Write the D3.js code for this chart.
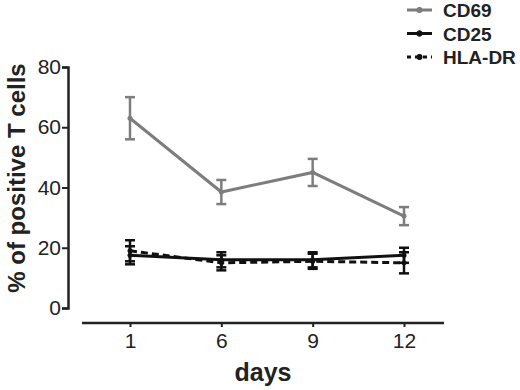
<!DOCTYPE html>
<html>
<head>
<meta charset="utf-8">
<script src="https://cdn.jsdelivr.net/npm/d3@7"></script>
<style>
    body { margin: 0; background: #fff; }
    text { font-family: "Liberation Sans", Arial, sans-serif; fill: #222; }
</style>
</head>
<body>
<svg id="chart" width="520" height="390"></svg>
<script>
var days = ["1", "6", "9", "12"];
var yTicks = [0, 20, 40, 60, 80];

var cd69Mean = [63, 38.5, 45, 30.5];
var cd69Err = [7, 4, 4.5, 3];
var cd25Mean = [17.5, 16, 16, 17.5];
var cd25Err = [3, 2.5, 2.5, 2.5];
var hlaMean = [19, 15, 15.5, 15];
var hlaErr = [3.5, 2.5, 2.5, 3.5];

var series = [
    { name: "CD69", mean: cd69Mean, err: cd69Err, color: "#7d7d7d", dash: null },
    { name: "CD25", mean: cd25Mean, err: cd25Err, color: "#111", dash: null },
    { name: "HLA-DR", mean: hlaMean, err: hlaErr, color: "#111", dash: "7,4" }
];

var svg = d3.select("#chart");

var x = d3.scalePoint().domain(days).range([130, 404]);
var y = d3.scaleLinear().domain([0, 80]).range([308, 67]);

// y axis
var yAxis = svg.append("g")
    .attr("transform", "translate(68,0)")
    .call(d3.axisLeft(y).tickValues(yTicks).tickSize(6).tickPadding(1));
yAxis.select(".domain").attr("stroke", "#222").attr("stroke-width", 2.5);
yAxis.selectAll(".tick line").attr("stroke", "#222").attr("stroke-width", 2);
yAxis.selectAll("text").style("font-size", "21px").attr("fill", "#222");

// x axis, line extends past the outer ticks
var xAxis = svg.append("g")
    .attr("transform", "translate(0,323)")
    .call(d3.axisBottom(x).tickSize(4).tickSizeOuter(0).tickPadding(6));
xAxis.select(".domain").remove();
xAxis.append("line")
    .attr("x1", 82).attr("x2", 444)
    .attr("stroke", "#222").attr("stroke-width", 2.5);
xAxis.selectAll(".tick line").attr("stroke", "#222").attr("stroke-width", 2);
xAxis.selectAll("text").style("font-size", "21px").attr("fill", "#222");

svg.append("text")
    .attr("x", 263).attr("y", 381)
    .attr("text-anchor", "middle")
    .style("font-size", "25px").style("font-weight", "bold")
    .text("days");

svg.append("text")
    .attr("transform", "translate(25,178) rotate(-90)")
    .attr("text-anchor", "middle")
    .style("font-size", "24px").style("font-weight", "bold")
    .text("% of positive T cells");

var line = d3.line()
    .x((d, i) => x(days[i]))
    .y(d => y(d));

series.slice().reverse().forEach(function (s) {
    var g = svg.append("g");
    g.append("path")
        .attr("d", line(s.mean))
        .attr("fill", "none")
        .attr("stroke", s.color)
        .attr("stroke-width", 3)
        .attr("stroke-dasharray", s.dash);
    s.mean.forEach(function (m, i) {
        var cx = x(days[i]);
        g.append("line")
            .attr("x1", cx).attr("x2", cx)
            .attr("y1", y(m - s.err[i])).attr("y2", y(m + s.err[i]))
            .attr("stroke", s.color).attr("stroke-width", 2.5);
        [m - s.err[i], m + s.err[i]].forEach(function (v) {
            g.append("line")
                .attr("x1", cx - 5).attr("x2", cx + 5)
                .attr("y1", y(v)).attr("y2", y(v))
                .attr("stroke", s.color).attr("stroke-width", 2.5);
        });
        g.append("circle")
            .attr("cx", cx).attr("cy", y(m)).attr("r", 2.5)
            .attr("fill", s.color);
    });
});

// legend
var legend = svg.selectAll("g.legendEntry")
    .data(series)
    .enter()
    .append("g")
    .attr("class", "legendEntry")
    .attr("transform", (d, i) => "translate(407," + (10 + i * 23.5) + ")");
legend.append("line")
    .attr("x1", 0).attr("x2", 25)
    .attr("stroke", d => d.color)
    .attr("stroke-width", 3)
    .attr("stroke-dasharray", d => d.dash ? "4,4" : null);
legend.append("line")
    .attr("x1", 12.5).attr("x2", 12.5)
    .attr("y1", -3).attr("y2", 3)
    .attr("stroke", d => d.color)
    .attr("stroke-width", 2);
legend.append("circle")
    .attr("cx", 12.5).attr("r", 3)
    .attr("fill", d => d.color);
legend.append("text")
    .attr("x", 36).attr("y", 7)
    .style("font-size", "19px").style("font-weight", "bold")
    .text(d => d.name);
</script>
</body>
</html>
